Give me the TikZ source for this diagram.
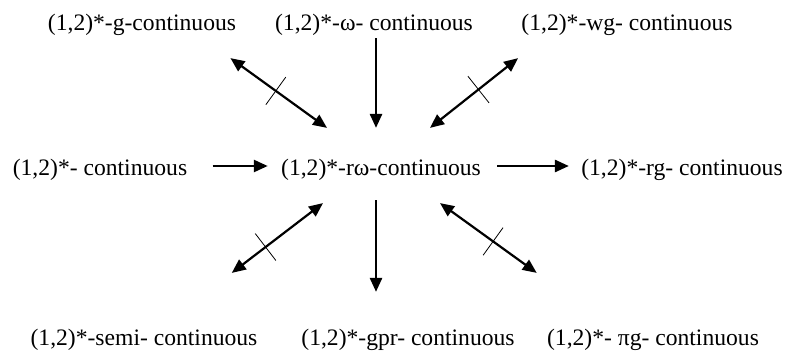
\documentclass[tikz,border=0pt]{standalone}
\usepackage{fontspec}
\setmainfont{Liberation Serif}
\usetikzlibrary{arrows.meta, positioning, decorations.markings}
\tikzset{
  concept/.style={inner sep=0pt, font=\fontsize{11.8}{14}\selectfont},
  implies/.style={line width=1.3pt, -{Triangle[length=7pt, width=6pt]}},
  notimplies/.style={line width=1.1pt, {Triangle[length=7pt, width=6pt]}-{Triangle[length=7pt, width=6pt]},
    postaction={decorate}, decoration={markings, mark=at position #1 with {\draw[-, line width=0.4pt] (0,-8.5pt) -- (0,8.5pt);}}}
}

\begin{document}
\begin{tikzpicture}[x=0.5pt, y=-0.5pt]
    \useasboundingbox (0,0) rectangle (790,352);
    % Top row
    \node[concept] (g)  at (142,25) {(1,2)*-g-continuous};
    \node[concept] (w)  at (374,25) {(1,2)*-ω- continuous};
    \node[concept] (wg) at (627,25) {(1,2)*-wg- continuous};
    % Middle row
    \node[concept] (cont) at (100,170) {(1,2)*- continuous};
    \node[concept] (rw)   at (381,170) {(1,2)*-rω-continuous};
    \node[concept] (rg)   at (682,170) {(1,2)*-rg- continuous};
    % Bottom row
    \node[concept] (semi) at (144,340) {(1,2)*-semi- continuous};
    \node[concept] (gpr)  at (408,340) {(1,2)*-gpr- continuous};
    \node[concept] (pig)  at (653,340) {(1,2)*- πg- continuous};

    % Implications
    \draw[implies] ([shift={(2,2)}]w.south) -- ([shift={(-5,-31)}]rw.north);
    \draw[implies] ([shift={(25,-4)}]cont.east) -- ([shift={(-13,-4)}]rw.west);
    \draw[implies] ([shift={(16,-4)}]rw.east) -- ([shift={(-12,-4)}]rg.west);
    \draw[implies] ([shift={(-5,19)}]rw.south) -- ([shift={(-32,-37)}]gpr.north);

    % Reverse implications fail
    \draw[notimplies=0.47] ([shift={(-6,22)}]g.south east) -- ([shift={(-54,-31)}]rw.north);
    \draw[notimplies=0.45] ([shift={(-3,22)}]wg.south west) -- ([shift={(49,-31)}]rw.north);
    \draw[notimplies=0.63] ([shift={(-58,22)}]rw.south) -- ([shift={(-26,-56)}]semi.north east);
    \draw[notimplies=0.55] ([shift={(59,22)}]rw.south) -- ([shift={(-10,-56)}]pig.north west);
\end{tikzpicture}
\end{document}
